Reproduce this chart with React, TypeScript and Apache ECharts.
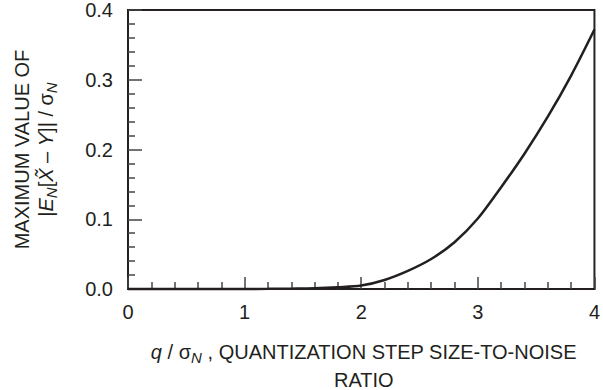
import React, { useEffect, useRef } from "react";
import * as echarts from "echarts";

const qRatio = [0, 0.4, 0.8, 1.0, 1.2, 1.4, 1.6, 1.8, 2.0, 2.2, 2.4, 2.6, 2.8, 3.0, 3.2, 3.4, 3.6, 3.8, 4.0];
const maxBias = [0, 0, 0, 0, 0.0002, 0.0005, 0.001, 0.0025, 0.005, 0.013, 0.026, 0.043, 0.067, 0.101, 0.146, 0.194, 0.247, 0.306, 0.372];
const xTicks = [0, 1, 2, 3, 4];
const yTicks = [0, 0.1, 0.2, 0.3, 0.4];

const FONT = "'Liberation Sans', Arial, Helvetica, sans-serif";
const INK = "#231f20";
const TICK = "#444";

export default function App() {
  const ref = useRef<HTMLDivElement>(null);
  useEffect(() => {
    if (!ref.current) return;
    const chart = echarts.init(ref.current, undefined, { renderer: "svg" });
    const left = 128;
    const top = 10;
    const right = 3.5;
    const bottom = 101;
    const plotW = 603 - left - right;
    const plotH = 390 - top - bottom;
    const cx = left + plotW / 2;
    const cy = top + plotH / 2;
    const fs = 20;
    const faintSplit = { show: true, lineStyle: { color: "#ffffff", width: 1, opacity: 0.02 } };
    chart.setOption({
      animation: false,
      grid: { left, top, right, bottom, show: true, borderColor: INK, borderWidth: 2 },
      xAxis: {
        type: "value",
        min: xTicks[0],
        max: xTicks[xTicks.length - 1],
        interval: 1,
        axisLine: { show: true, onZero: false, lineStyle: { color: INK, width: 2 } },
        axisTick: { show: true, inside: true, length: 12, lineStyle: { color: TICK, width: 1.5 } },
        minorTick: { show: true, splitNumber: 5, length: 7, lineStyle: { color: TICK, width: 1.5 } },
        splitLine: faintSplit,
        axisLabel: { color: INK, fontSize: fs, fontFamily: FONT, margin: 13 },
      },
      yAxis: {
        type: "value",
        min: yTicks[0],
        max: yTicks[yTicks.length - 1],
        interval: 0.1,
        axisLine: { show: true, onZero: false, lineStyle: { color: INK, width: 2 } },
        axisTick: { show: true, inside: true, length: 14, lineStyle: { color: TICK, width: 1.5 } },
        minorTick: { show: true, splitNumber: 5, length: 7, lineStyle: { color: TICK, width: 1.5 } },
        splitLine: faintSplit,
        axisLabel: {
          color: INK,
          fontSize: fs,
          fontFamily: FONT,
          margin: 15,
          formatter: (v: number) => v.toFixed(1),
        },
      },
      series: [
        {
          type: "line",
          data: qRatio.map((q, i) => [q, maxBias[i]]),
          smooth: 0.3,
          showSymbol: false,
          symbol: "none",
          lineStyle: { color: INK, width: 2.5 },
          clip: false,
          z: 5,
        },
      ],
      graphic: [
        {
          type: "text",
          x: 21.5,
          y: cy,
          rotation: Math.PI / 2,
          style: {
            text: "MAXIMUM VALUE OF",
            fill: INK,
            font: `${fs}px ${FONT}`,
            align: "center",
            verticalAlign: "middle",
          },
        },
        {
          type: "text",
          x: 46,
          y: cy,
          rotation: Math.PI / 2,
          style: {
            text: "|{i|E}{sub|N}[{i|X\u0303} \u2013 {i|Y}]| / \u03c3{sub|N}",
            fill: INK,
            font: `${fs}px ${FONT}`,
            align: "center",
            verticalAlign: "middle",
            rich: {
              i: { fontStyle: "italic", fontSize: fs, fontFamily: FONT, fill: INK },
              sub: { fontStyle: "italic", fontSize: 15, fontFamily: FONT, fill: INK, padding: [10, 0, 0, 0] },
            },
          },
        },
        {
          type: "text",
          x: cx,
          y: 352,
          style: {
            text: "{i|q} / \u03c3{sub|N} , QUANTIZATION STEP SIZE-TO-NOISE",
            fill: INK,
            font: `${fs}px ${FONT}`,
            align: "center",
            verticalAlign: "middle",
            rich: {
              i: { fontStyle: "italic", fontSize: fs, fontFamily: FONT, fill: INK },
              sub: { fontStyle: "italic", fontSize: 15, fontFamily: FONT, fill: INK, padding: [10, 0, 0, 0] },
            },
          },
        },
        {
          type: "text",
          x: cx,
          y: 380,
          style: {
            text: "RATIO",
            fill: INK,
            font: `${fs}px ${FONT}`,
            align: "center",
            verticalAlign: "middle",
          },
        },
      ],
    });
    return () => chart.dispose();
  }, []);
  return (
    <div
      ref={ref}
      style={{ position: "fixed", left: 0, top: 0, width: 603, height: 390, background: "#fff" }}
    />
  );
}
